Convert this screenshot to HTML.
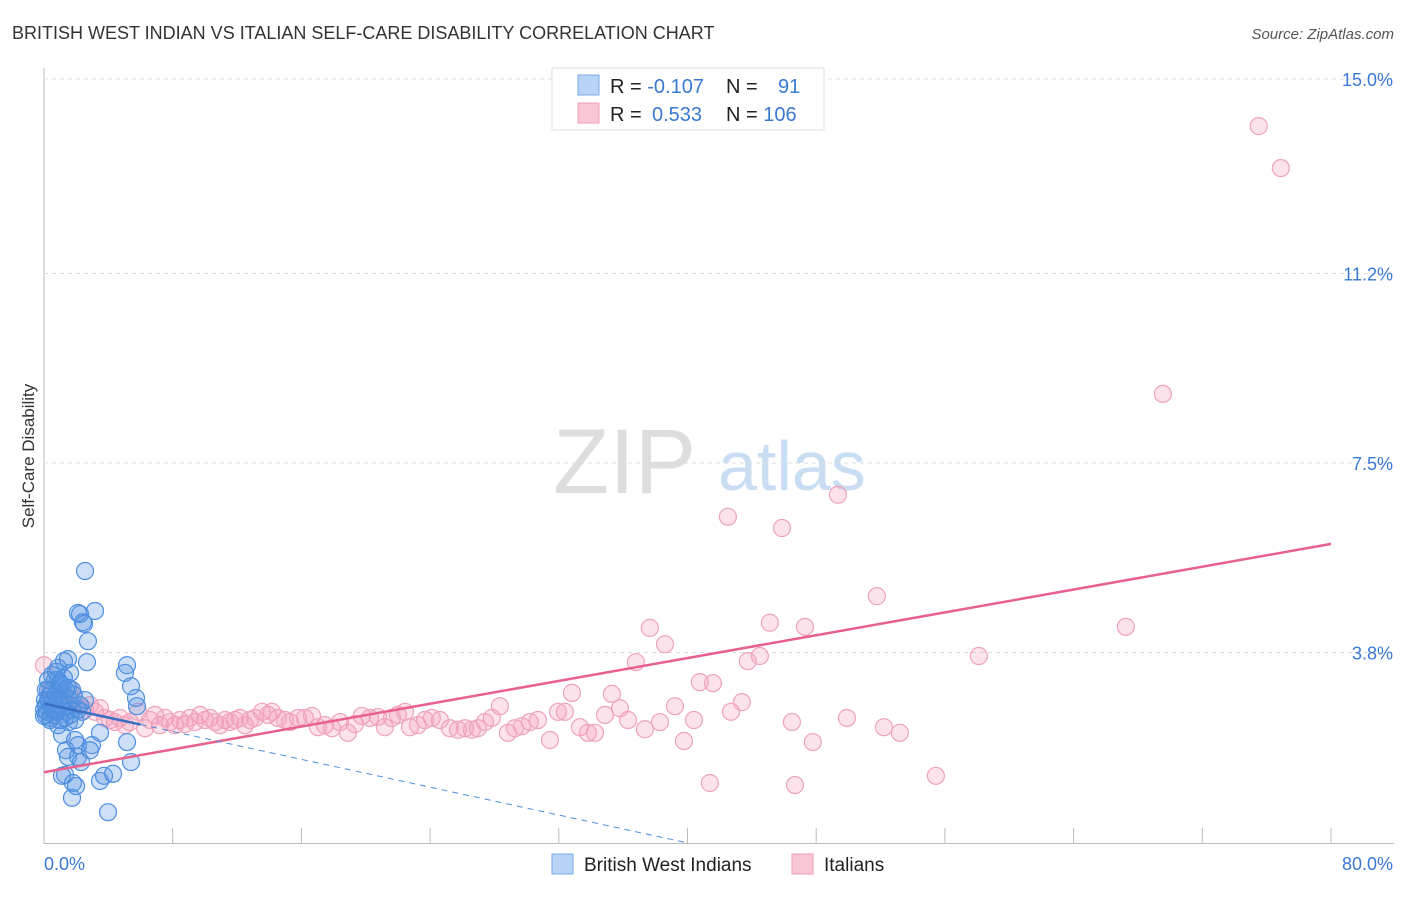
<!DOCTYPE html>
<html><head><meta charset="utf-8"><style>
body{margin:0;background:#fff;font-family:"Liberation Sans",sans-serif;}
svg text{font-family:"Liberation Sans",sans-serif;}
</style></head><body>
<svg id="c" width="1406" height="892">
<text x="12" y="39" font-size="18" fill="#333">BRITISH WEST INDIAN VS ITALIAN SELF-CARE DISABILITY CORRELATION CHART</text>
<text x="1394" y="39" font-size="15" fill="#555" font-style="italic" text-anchor="end">Source: ZipAtlas.com</text>
<text x="34" y="456" font-size="17" fill="#333" text-anchor="middle" transform="rotate(-90 34 456)">Self-Care Disability</text>
<g><text x="553" y="493" font-size="92" fill="#ddd" font-family="Liberation Serif,serif">ZIP</text><text x="718" y="490" font-size="70" fill="#c9ddf2">atlas</text></g>
<g id="grid"></g><g id="pts"></g><g id="lines"></g>
<g>
<rect x="552" y="68" width="272" height="62" fill="#fff" stroke="#ddd"/>
<rect x="578" y="75" width="21" height="20" fill="#b8d3f5" stroke="#7aa9e6"/>
<rect x="578" y="103" width="21" height="20" fill="#f9c6d4" stroke="#ee9fb6"/>
<text x="610" y="93" font-size="20" fill="#222">R = <tspan fill="#3a78d4">-0.107</tspan></text>
<text x="726" y="93" font-size="20" fill="#222">N = <tspan x="778" fill="#3a78d4">91</tspan></text>
<text x="610" y="121" font-size="20" fill="#222">R = <tspan x="652" fill="#3a78d4">0.533</tspan></text>
<text x="726" y="121" font-size="20" fill="#222">N = <tspan fill="#3a78d4">106</tspan></text>
</g>
<g>
<rect x="552" y="854" width="21" height="20" fill="#b8d3f5" stroke="#7aa9e6"/>
<text x="584" y="871" font-size="19" fill="#222">British West Indians</text>
<rect x="792" y="854" width="21" height="20" fill="#f9c6d4" stroke="#ee9fb6"/>
<text x="824" y="871" font-size="19" fill="#222">Italians</text>
</g>
</svg>
<script>
const yTicks=[3.8,7.5,11.2,15.0];
const yTickLabels=["3.8%","7.5%","11.2%","15.0%"];
const xTickLabels=["0.0%","80.0%"];
const blueX=[2.55,2.11,2.24,3.17,2.42,2.49,2.73,2.67,1.49,1.24,0.87,1.62,1.74,5.16,5.03,5.41,5.72,5.78,0.68,0.99,0.37,0.25,0.5,0.12,0.37,0.68,1.12,1.37,1.62,0.87,1.12,1.93,2.11,2.98,2.86,1.37,1.49,2.11,2.3,3.48,5.16,5.41,1.31,1.12,1.8,1.99,3.48,3.73,4.29,1.74,3.98,0.25,0.37,0.62,0.99,0.06,0.19,0.5,0.75,1.24,1.49,1.74,0.87,1.12,1.37,1.62,1.86,2.11,0.37,0,0.12,0.56,0.81,1.06,1.31,1.55,0.25,0.5,0.75,0.99,1.24,1.49,1.93,2.24,2.55,2.36,0,0.12,0.31,0.62,0.87];
const blueY=[5.39,4.57,4.55,4.61,4.39,4.36,4.02,3.61,3.67,3.63,3.5,3.4,3.07,3.55,3.4,3.14,2.91,2.75,3.26,3.07,2.97,2.87,2.68,2.58,2.48,2.77,2.87,2.64,2.58,2.38,2.19,2.09,1.99,1.99,1.89,1.89,1.76,1.76,1.66,2.23,2.05,1.66,1.41,1.39,1.25,1.19,1.29,1.39,1.43,0.96,0.68,3.07,2.77,2.58,2.48,2.87,2.64,3.07,2.97,2.97,2.77,2.68,3.26,3.16,3.07,2.87,2.97,2.68,2.52,2.68,3.07,2.87,2.64,2.77,2.52,2.44,3.26,3.36,3.42,3.2,3.3,3.11,2.48,2.77,2.87,2.64,2.56,2.77,2.87,2.68,2.87];
const pinkX=[0,0.37,0.68,0.99,1.31,1.62,1.93,2.24,2.55,2.86,3.17,3.48,3.79,4.1,4.41,4.72,5.03,5.34,5.84,6.28,6.59,6.9,7.21,7.52,7.83,8.14,8.45,8.76,9.07,9.38,9.7,10.01,10.32,10.63,10.94,11.25,11.56,11.87,12.18,12.49,12.8,13.11,13.55,13.92,14.17,14.54,14.98,15.29,15.79,16.22,16.66,17.03,17.46,17.9,18.4,18.89,19.33,19.76,20.26,20.76,21.19,21.63,22,22.44,22.75,23.24,23.68,24.11,24.61,25.23,25.73,26.17,26.6,26.97,27.41,27.84,28.34,28.84,29.27,29.71,30.2,30.7,31.45,31.95,32.38,32.82,33.31,33.81,34.25,34.87,35.3,35.8,36.3,36.79,37.35,37.66,38.29,38.6,39.22,39.78,40.4,40.77,41.39,41.58,42.51,42.7,43.38,43.75,44.5,45.12,45.87,46.49,46.68,47.3,47.79,49.35,49.91,51.77,52.21,53.2,55.44,58.11,67.25,69.55,75.51,76.88];
const pinkY=[3.55,3.07,2.87,2.77,2.97,3.07,2.87,2.77,2.68,2.77,2.64,2.71,2.52,2.48,2.44,2.52,2.38,2.44,2.64,2.32,2.48,2.58,2.38,2.52,2.44,2.38,2.48,2.4,2.52,2.44,2.58,2.48,2.52,2.44,2.38,2.48,2.44,2.48,2.52,2.38,2.48,2.52,2.64,2.58,2.64,2.52,2.48,2.44,2.52,2.52,2.56,2.34,2.38,2.32,2.44,2.23,2.4,2.56,2.52,2.54,2.34,2.52,2.58,2.64,2.34,2.38,2.48,2.52,2.48,2.32,2.29,2.32,2.29,2.32,2.44,2.52,2.75,2.23,2.32,2.36,2.44,2.48,2.09,2.64,2.64,3.01,2.34,2.23,2.23,2.58,2.99,2.71,2.48,3.61,2.3,4.28,2.44,3.96,2.75,2.07,2.48,3.22,1.25,3.2,6.45,2.64,2.83,3.63,3.73,4.38,6.23,2.44,1.21,4.3,2.05,6.88,2.52,4.9,2.34,2.23,1.39,3.73,4.3,8.85,14.08,13.26];
const pinkTrend=[1.46,5.92];   // y at x=0 and x=80
const blueTrend=[2.8,-0.068]; // intercept, slope

const X0=44,X1=1331,Y0=847,PXY=51.2;
const sx=v=>X0+(X1-X0)*v/80, sy=v=>Y0-v*PXY;
const NS="http://www.w3.org/2000/svg";
function mk(parent,tag,attrs){const e=document.createElementNS(NS,tag);for(const k in attrs)e.setAttribute(k,attrs[k]);parent.appendChild(e);return e;}
const grid=document.getElementById('grid');
let ax=mk(grid,'line',{x1:44,y1:68,x2:44,y2:844,stroke:'#bbb'});


let bx=mk(grid,'line',{x1:44,y1:843.5,x2:1394,y2:843.5,stroke:'#bbb'});


yTicks.forEach((v,i)=>{
  const g=mk(grid,'line',{x1:44,x2:1394,y1:sy(v),y2:sy(v),stroke:'#ddd','stroke-dasharray':'4,4'});
  
  
  const t=mk(grid,'text',{x:1393,y:sy(v)+7,'font-size':18,fill:'#3a78d4','text-anchor':'end'});
  t.textContent=yTickLabels[i];
  
  
});
for(let i=0;i<=10;i++){
  const x=sx(i*8);
  const t=mk(grid,'line',{x1:x,x2:x,y1:828,y2:844,stroke:'#bbb'});
  
  
}
[[0,44,'start'],[80,1393,'end']].forEach((a,i)=>{
  const t=mk(grid,'text',{x:a[1],y:870,'font-size':18,fill:'#3a78d4','text-anchor':a[2]});
  t.textContent=xTickLabels[i];
  
  
});
const pts=document.getElementById('pts');
pinkX.forEach((x,i)=>{
  const c=mk(pts,'circle',{cx:sx(x),cy:sy(pinkY[i]),r:8.5,fill:'rgba(244,160,188,0.3)',stroke:'#eea3bb','stroke-width':1.2});
  
  
});
blueX.forEach((x,i)=>{
  const c=mk(pts,'circle',{cx:sx(x),cy:sy(blueY[i]),r:8.5,fill:'rgba(90,150,225,0.3)',stroke:'#4d8fe0','stroke-width':1.2});
  
  
});
const lines=document.getElementById('lines');
let pl=mk(lines,'line',{x1:sx(0),y1:sy(pinkTrend[0]),x2:sx(80),y2:sy(pinkTrend[1]),stroke:'#e8608e','stroke-width':2.5});


const bxEnd=-blueTrend[0]/blueTrend[1]*0.97;
let bl=mk(lines,'line',{x1:sx(0),y1:sy(blueTrend[0]),x2:sx(6),y2:sy(blueTrend[0]+blueTrend[1]*6),stroke:'#3a6fc4','stroke-width':2.5});


let bd=mk(lines,'line',{x1:sx(6),y1:sy(blueTrend[0]+blueTrend[1]*6),x2:sx(40),y2:sy(blueTrend[0]+blueTrend[1]*40),stroke:'#4d8fe0','stroke-width':1,'stroke-dasharray':'6,5'});


</script>
</body></html>
